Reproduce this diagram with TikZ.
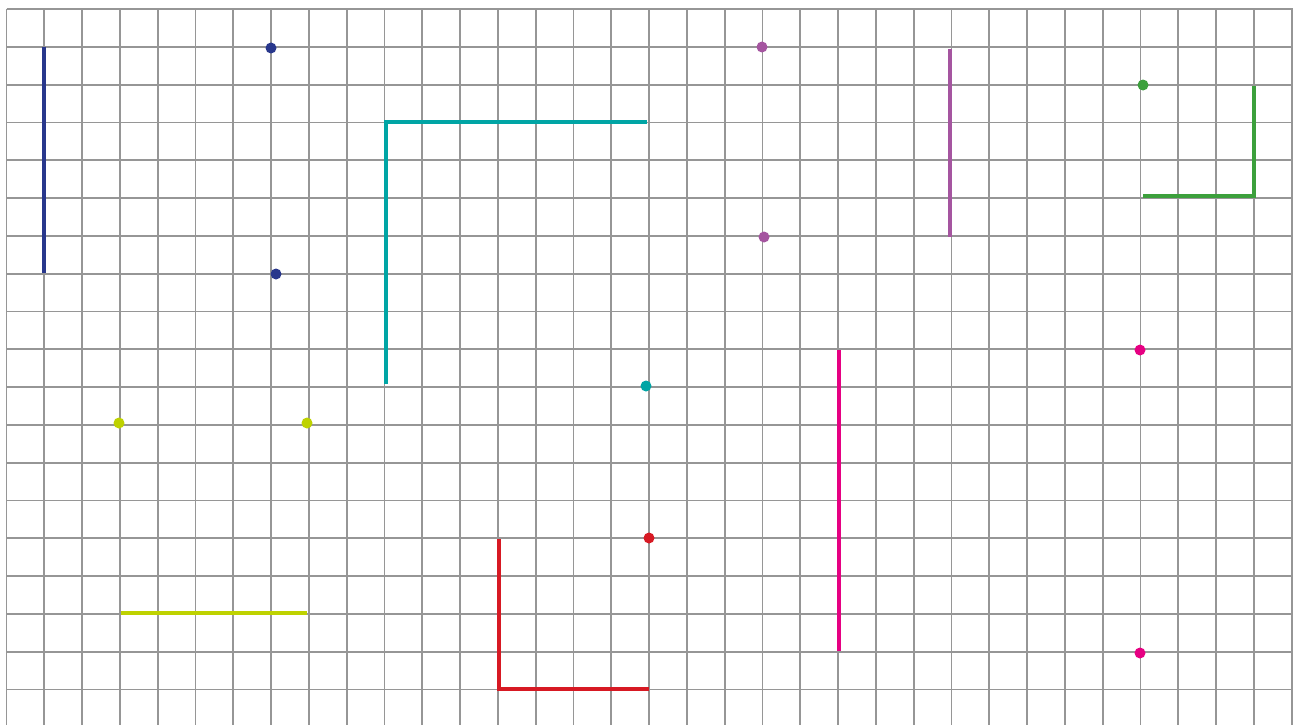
\documentclass[tikz,border=0pt]{standalone}
\definecolor{gridgray}{RGB}{150,150,150}
\definecolor{cnavy}{RGB}{40,55,140}
\definecolor{cteal}{RGB}{0,165,165}
\definecolor{cpurple}{RGB}{165,85,160}
\definecolor{cgreen}{RGB}{60,160,60}
\definecolor{cpink}{RGB}{230,0,130}
\definecolor{cyellow}{RGB}{190,210,0}
\definecolor{cred}{RGB}{215,25,35}
\tikzset{
  gridline/.style={draw=gridgray,line width=1.8pt},
  seg/.style={line width=4pt},
  dot/.style={circle,inner sep=0pt,minimum size=11pt,fill=#1}
}
\begin{document}
\begin{tikzpicture}[x=1pt,y=-1pt]
\useasboundingbox (0,0) rectangle (1297,725);
\fill[white] (0,0) rectangle (1297,725);
% grid
\foreach \i in {0,...,34} {
  \draw[gridline] ({6.5+37.8*\i},9) -- ({6.5+37.8*\i},725);
}
\foreach \j in {0,...,18} {
  \draw[gridline] (6.5,{9+37.8*\j}) -- (1292.5,{9+37.8*\j});
}
% navy
\coordinate (n1) at (44,47);
\coordinate (n2) at (44,273);
\draw[seg,cnavy] (n1) -- (n2);
\node[dot=cnavy] (nd1) at (271,48) {};
\node[dot=cnavy] (nd2) at (276,274) {};
% teal
\coordinate (t1) at (647,122);
\coordinate (t2) at (386,122);
\coordinate (t3) at (386,384);
\draw[seg,cteal] (t1) -- (t2) -- (t3);
\node[dot=cteal] (td) at (646,386) {};
% purple
\node[dot=cpurple] (pd1) at (762,47) {};
\node[dot=cpurple] (pd2) at (764,237) {};
\coordinate (p1) at (950,49);
\coordinate (p2) at (950,237);
\draw[seg,cpurple] (p1) -- (p2);
% green
\node[dot=cgreen] (gd) at (1143,85) {};
\coordinate (g1) at (1143,196);
\coordinate (g2) at (1254,196);
\coordinate (g3) at (1254,86);
\draw[seg,cgreen] (g1) -- (g2) -- (g3);
% pink
\node[dot=cpink] (kd1) at (1140,350) {};
\node[dot=cpink] (kd2) at (1140,653) {};
\coordinate (k1) at (839,350);
\coordinate (k2) at (839,651);
\draw[seg,cpink] (k1) -- (k2);
% yellow-green
\node[dot=cyellow] (yd1) at (119,423) {};
\node[dot=cyellow] (yd2) at (307,423) {};
\coordinate (y1) at (121,613);
\coordinate (y2) at (307,613);
\draw[seg,cyellow] (y1) -- (y2);
% red
\node[dot=cred] (rd) at (649,538) {};
\coordinate (r1) at (499,539);
\coordinate (r2) at (499,689);
\coordinate (r3) at (649,689);
\draw[seg,cred] (r1) -- (r2) -- (r3);
\end{tikzpicture}
\end{document}
